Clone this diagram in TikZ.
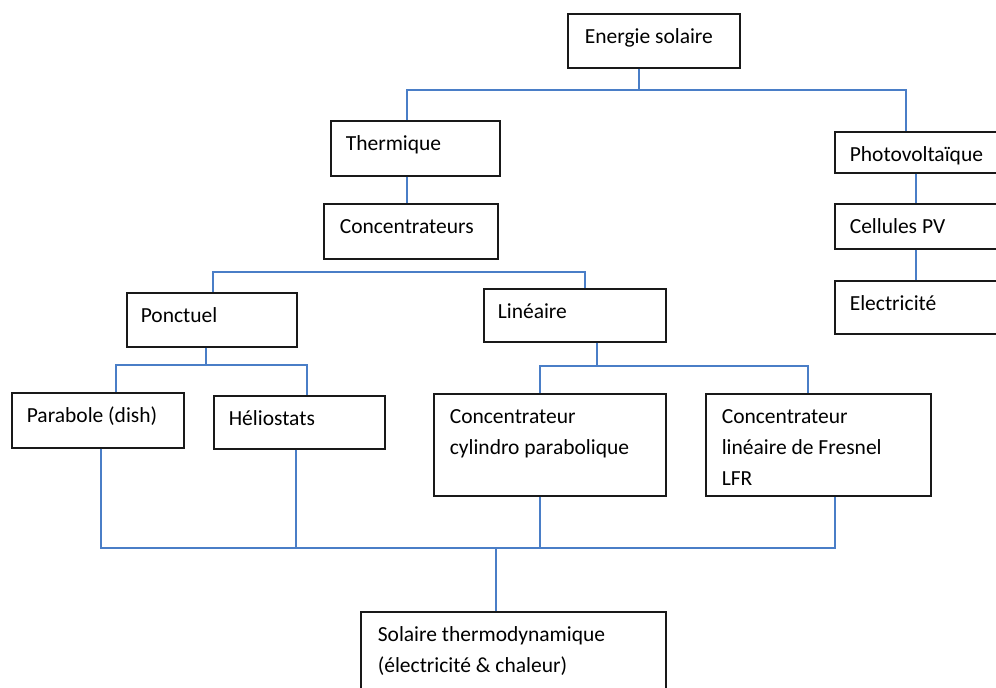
\documentclass[tikz,border=0pt]{standalone}
\usepackage{fontspec}
\setmainfont{Carlito}
\definecolor{connblue}{HTML}{4A7EC7}
\tikzset{
  boxst/.style={draw=black!90, line width=1.6pt, inner sep=0pt, fill=white},
  conn/.style={draw=connblue, line width=1.8pt},
}
% name, x, y, width, height, left pad, text
\newcommand{\mybox}[7]{%
  \node[boxst, anchor=north west] (#1) at (#2,#3)
  {\parbox[t][#5pt][t]{#4pt}{\raggedright\leftskip=#6pt\relax
   \fontsize{21.5}{31}\selectfont\rule{0pt}{30pt}#7\par}};}
\begin{document}
\begin{tikzpicture}[x=1pt,y=-1pt]
\useasboundingbox (0,0) rectangle (996,688);
\clip (0,0) rectangle (996,688);
\fill[white] (0,0) rectangle (996,688);

% connectors first (under boxes)
\coordinate (j1) at (639,90);
\coordinate (j2) at (213,272);
\coordinate (j3) at (206,365);
\coordinate (j4) at (597,366);
\coordinate (j5) at (496,548);

\mybox{es}{567}{13}{172}{54}{17}{Energie solaire}
\mybox{th}{330}{120}{169}{55}{15}{Thermique}
\mybox{co}{323}{203}{174}{55}{16}{Concentrateurs}
\mybox{pv}{834}{131}{180}{41}{15}{Photovoltaïque}
\mybox{cp}{834}{203}{180}{45}{15}{Cellules PV}
\mybox{el}{834}{280}{180}{53}{15}{Electricité}
\mybox{po}{126}{292}{170}{54}{14}{Ponctuel}
\mybox{li}{483}{288}{182}{53}{14}{Linéaire}
\mybox{pa}{11}{392}{172}{55}{15}{Parabole (dish)}
\mybox{he}{213}{395}{171}{53}{15}{Héliostats}
\mybox{cy}{433}{393}{232}{102}{16}{Concentrateur\\cylindro parabolique}
\mybox{fr}{705}{393}{225}{102}{16}{Concentrateur\\linéaire de Fresnel\\LFR}
\mybox{so}{360}{611}{305}{90}{17}{Solaire thermodynamique\\(électricité \& chaleur)}

% level 1
\draw[conn] (639,0 |- es.south) -- (j1);
\draw[conn] (j1) -| (407,0 |- th.north);
\draw[conn] (j1) -| (906,0 |- pv.north);
\draw[conn] (407,0 |- th.south) -- (407,0 |- co.north);
\draw[conn] (916,0 |- pv.south) -- (916,0 |- cp.north);
\draw[conn] (916,0 |- cp.south) -- (916,0 |- el.north);
% concentrateurs split
\draw[conn] (213,0 |- po.north) |- (j2) -- (585,272) -- (585,0 |- li.north);
% ponctuel
\draw[conn] (206,0 |- po.south) -- (j3);
\draw[conn] (j3) -| (116,0 |- pa.north);
\draw[conn] (j3) -| (307,0 |- he.north);
% lineaire
\draw[conn] (597,0 |- li.south) -- (j4);
\draw[conn] (j4) -| (540,0 |- cy.north);
\draw[conn] (j4) -| (808,0 |- fr.north);
% collector
\draw[conn] (101,0 |- pa.south) |- (j5);
\draw[conn] (j5) -| (835,0 |- fr.south);
\draw[conn] (296,0 |- he.south) -- (296,548);
\draw[conn] (540,0 |- cy.south) -- (540,548);
\draw[conn] (j5) -- (496,0 |- so.north);
\end{tikzpicture}
\end{document}
